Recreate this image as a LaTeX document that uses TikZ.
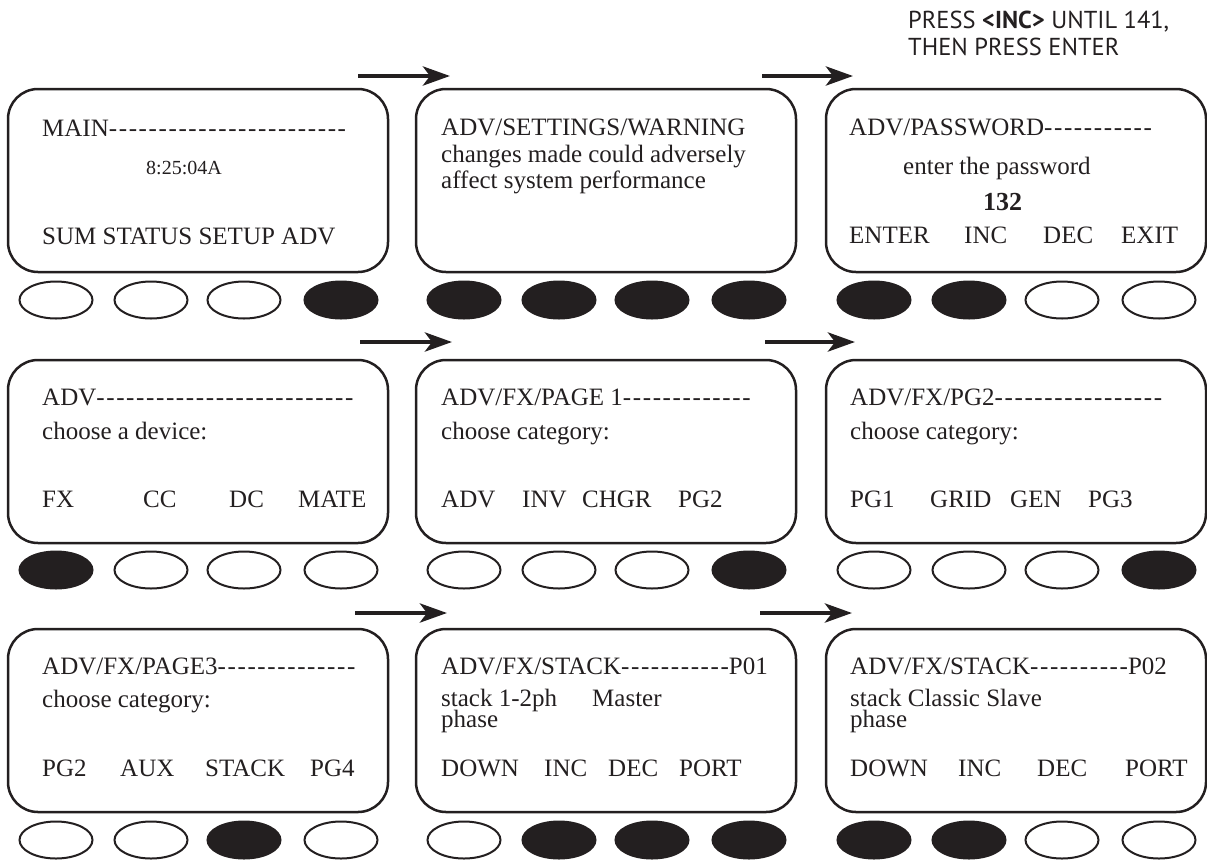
\documentclass[tikz,border=0pt]{standalone}
\usepackage{fontspec}
\setmainfont{Liberation Serif}
\newfontfamily\dashfont{Liberation Serif}[LetterSpace=6.5]
\newfontfamily\capfont{PT Sans}
\usetikzlibrary{shapes.geometric,arrows.meta}
\definecolor{ink}{HTML}{231F20}

\begin{document}
\begin{tikzpicture}[x=1pt,y=-1pt,
  screen/.style={draw=ink,line width=2.5pt,rounded corners=30pt,minimum width=380pt,minimum height=183pt,inner sep=0pt},
  key/.style={ellipse,draw=ink,line width=2pt,minimum width=73pt,minimum height=37pt,inner sep=0pt},
  keyon/.style={key,fill=ink},
  txt/.style={anchor=base west,inner sep=0pt,text=ink,font=\fontsize{25}{30}\selectfont},
  notetxt/.style={anchor=base west,inner sep=0pt,text=ink,font=\fontsize{24.5}{30}\capfont},
  flow/.style={draw=ink,line width=4.5pt,-{Stealth[length=27pt,width=19pt,inset=7pt]}}]
\useasboundingbox (0,0) rectangle (1207,865);

\node[notetxt] (noteA) at (908,28) {PRESS \textbf{<INC>} UNTIL 141,};
\node[notetxt] (noteB) at (908,55) {THEN PRESS ENTER};

\coordinate (fA1) at (358,76); \coordinate (fA2) at (450,76);
\coordinate (fB1) at (762,76); \coordinate (fB2) at (853,76);
\coordinate (fC1) at (360,342); \coordinate (fC2) at (452,342);
\coordinate (fD1) at (765,342); \coordinate (fD2) at (855,342);
\coordinate (fE1) at (355,613); \coordinate (fE2) at (447,613);
\coordinate (fF1) at (760,613); \coordinate (fF2) at (852,613);
\draw[flow] (fA1) -- (fA2);
\draw[flow] (fB1) -- (fB2);
\draw[flow] (fC1) -- (fC2);
\draw[flow] (fD1) -- (fD2);
\draw[flow] (fE1) -- (fE2);
\draw[flow] (fF1) -- (fF2);

\node[screen] (scrMain) at (198,180.5) {};
\node[screen] (scrWarn) at (606,180.5) {};
\node[screen] (scrPass) at (1016,180.5) {};
\node[screen] (scrAdv) at (198,451.5) {};
\node[screen] (scrPgA) at (606,451.5) {};
\node[screen] (scrPgB) at (1016,451.5) {};
\node[screen] (scrPgC) at (198,720.5) {};
\node[screen] (scrStkA) at (606,720.5) {};
\node[screen] (scrStkB) at (1016,720.5) {};

\node[txt] (mainA) at (42,136) {MAIN{\dashfont ------------------------}};
\node[txt,font=\fontsize{20}{24}\selectfont] (mainB) at (146,174) {8:25:04A};
\node[txt] (mainC) at (42,244) {SUM STATUS SETUP ADV};

\node[txt] (warnA) at (441,135) {ADV/SETTINGS/WARNING};
\node[txt] (warnB) at (441,162) {changes made could adversely};
\node[txt] (warnC) at (441,188) {affect system performance};

\node[txt] (passA) at (849,135) {ADV/PASSWORD{\dashfont -----------}};
\node[txt] (passB) at (903,174) {enter the password};
\node[txt,font=\fontsize{26}{30}\bfseries] (passC) at (983,210) {132};
\node[txt] (passD) at (849,243) {ENTER};
\node[txt] (passE) at (964,243) {INC};
\node[txt] (passF) at (1043,243) {DEC};
\node[txt] (passG) at (1121,243) {EXIT};

\node[txt] (advA) at (42,405) {ADV{\dashfont --------------------------}};
\node[txt] (advB) at (42,439) {choose a device:};
\node[txt] (advC) at (42,507) {FX};
\node[txt] (advD) at (143,507) {CC};
\node[txt] (advE) at (229,507) {DC};
\node[txt] (advF) at (298,507) {MATE};

\node[txt] (pgaA) at (441,405) {ADV/FX/PAGE 1{\dashfont -------------}};
\node[txt] (pgaB) at (441,439) {choose category:};
\node[txt] (pgaC) at (441,507) {ADV};
\node[txt] (pgaD) at (522,507) {INV};
\node[txt] (pgaE) at (582,507) {CHGR};
\node[txt] (pgaF) at (678,507) {PG2};

\node[txt] (pgbA) at (850,405) {ADV/FX/PG2{\dashfont -----------------}};
\node[txt] (pgbB) at (850,439) {choose category:};
\node[txt] (pgbC) at (850,507) {PG1};
\node[txt] (pgbD) at (930,507) {GRID};
\node[txt] (pgbE) at (1010,507) {GEN};
\node[txt] (pgbF) at (1088,507) {PG3};

\node[txt] (pgcA) at (42,674) {ADV/FX/PAGE3{\dashfont --------------}};
\node[txt] (pgcB) at (42,707) {choose category:};
\node[txt] (pgcC) at (42,776) {PG2};
\node[txt] (pgcD) at (120,776) {AUX};
\node[txt] (pgcE) at (205,776) {STACK};
\node[txt] (pgcF) at (310,776) {PG4};

\node[txt] (stkaA) at (441,674) {ADV/FX/STACK{\dashfont -----------}P01};
\node[txt] (stkaB) at (441,706) {stack 1-2ph};
\node[txt] (stkaC) at (592,706) {Master};
\node[txt] (stkaD) at (441,727) {phase};
\node[txt] (stkaE) at (441,776) {DOWN};
\node[txt] (stkaF) at (544,776) {INC};
\node[txt] (stkaG) at (608,776) {DEC};
\node[txt] (stkaH) at (679,776) {PORT};

\node[txt] (stkbA) at (850,674) {ADV/FX/STACK{\dashfont ----------}P02};
\node[txt] (stkbB) at (850,706) {stack Classic Slave};
\node[txt] (stkbC) at (850,727) {phase};
\node[txt] (stkbD) at (850,776) {DOWN};
\node[txt] (stkbE) at (958,776) {INC};
\node[txt] (stkbF) at (1037,776) {DEC};
\node[txt] (stkbG) at (1125,776) {PORT};

\node[key] (mainK1) at (56,300) {}; \node[key] (mainK2) at (151,300) {}; \node[key] (mainK3) at (244,300) {}; \node[keyon] (mainK4) at (341,300) {};
\node[keyon] (warnK1) at (464,300) {}; \node[keyon] (warnK2) at (559,300) {}; \node[keyon] (warnK3) at (652,300) {}; \node[keyon] (warnK4) at (749,300) {};
\node[keyon] (passK1) at (874,300) {}; \node[keyon] (passK2) at (969,300) {}; \node[key] (passK3) at (1062,300) {}; \node[key] (passK4) at (1159,300) {};

\node[keyon] (advK1) at (56,570) {}; \node[key] (advK2) at (151,570) {}; \node[key] (advK3) at (244,570) {}; \node[key] (advK4) at (341,570) {};
\node[key] (pgaK1) at (464,570) {}; \node[key] (pgaK2) at (559,570) {}; \node[key] (pgaK3) at (652,570) {}; \node[keyon] (pgaK4) at (749,570) {};
\node[key] (pgbK1) at (874,570) {}; \node[key] (pgbK2) at (969,570) {}; \node[key] (pgbK3) at (1062,570) {}; \node[keyon] (pgbK4) at (1159,570) {};

\node[key] (pgcK1) at (56,840) {}; \node[key] (pgcK2) at (151,840) {}; \node[keyon] (pgcK3) at (244,840) {}; \node[key] (pgcK4) at (341,840) {};
\node[key] (stkaK1) at (464,840) {}; \node[keyon] (stkaK2) at (559,840) {}; \node[keyon] (stkaK3) at (652,840) {}; \node[keyon] (stkaK4) at (749,840) {};
\node[keyon] (stkbK1) at (874,840) {}; \node[keyon] (stkbK2) at (969,840) {}; \node[key] (stkbK3) at (1062,840) {}; \node[key] (stkbK4) at (1159,840) {};
\end{tikzpicture}
\end{document}
